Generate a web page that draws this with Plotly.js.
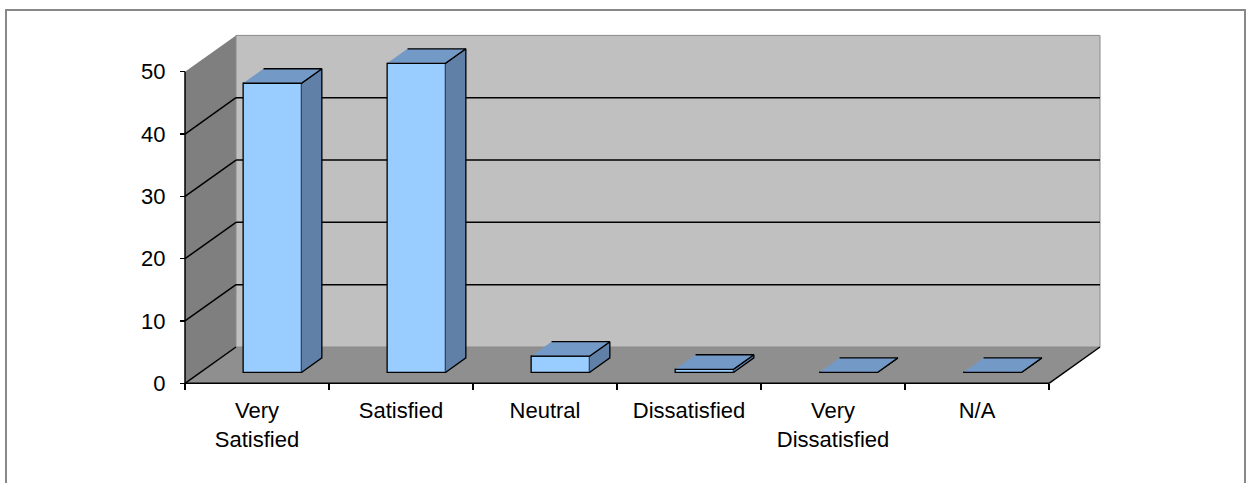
<!DOCTYPE html>
<html>
<head>
<meta charset="utf-8">
<script src="https://cdn.plot.ly/plotly-3.0.1.min.js"></script>
<style>
  html, body { margin: 0; padding: 0; overflow: hidden; background: #ffffff; }
  #wrap { position: relative; width: 1246px; height: 483px; }
  #chart { position: absolute; left: 0; top: 0; width: 1246px; height: 483px; }
  #frame { position: absolute; left: 5px; top: 9px; width: 1241px; height: 490px;
           box-sizing: border-box; border: 2px solid #888888; pointer-events: none; }
</style>
</head>
<body>
<div id="wrap">
  <div id="chart"></div>
  <div id="frame"></div>
</div>
<script>
// Survey responses (percent)
const categories = ['Very<br>Satisfied', 'Satisfied', 'Neutral', 'Dissatisfied', 'Very<br>Dissatisfied', 'N/A'];
const values = [46.4, 49.6, 2.6, 0.5, 0, 0];
const yTicks = [0, 10, 20, 30, 40, 50];
const yMax = 50;

// ---- 3-D box geometry (pixel scale of the front plane) ----
const W = 1246, H = 483;
const X0PX = 185, Y0PX = 383.3;      // origin of the front plane
const PX_X = 144, PX_Y = 6.232;       // px per category / px per unit
const DX = 51 / PX_X, DY = 36.3 / PX_Y;   // depth offset in axis units
const L = 170, R = 1110, T = 25, B = 395; // plot area box
const BAR_W = 0.405, F0 = 0.3, F1 = 0.7;  // bar width and depth slot

const nCat = categories.length;
const xRange = [(L - X0PX) / PX_X, (R - X0PX) / PX_X];
const yRange = [(Y0PX - B) / PX_Y, (Y0PX - T) / PX_Y];

const FRONT = '#99CCFF', TOP = '#7399C6', SIDE = '#6080A8';
const BACKWALL = '#C0C0C0', SIDEWALL = '#7F7F7F', FLOOR = '#8F8F8F';

// Walls, floor and gridlines
const shapes = [];
function poly(pts, fill, lineColor, lineWidth) {
  const d = 'M' + pts.map(p => p[0] + ',' + p[1]).join('L') + 'Z';
  shapes.push({type: 'path', path: d, xref: 'x', yref: 'y', layer: 'below',
               fillcolor: fill, line: {color: lineColor, width: lineWidth}});
}
function seg(x0, y0, x1, y1, color, width) {
  shapes.push({type: 'line', x0: x0, y0: y0, x1: x1, y1: y1, xref: 'x', yref: 'y',
               layer: 'below', line: {color: color, width: width}});
}
poly([[0, 0], [nCat, 0], [nCat + DX, DY], [DX, DY]], FLOOR, 'rgba(0,0,0,0)', 0);
poly([[0, 0], [DX, DY], [DX, yMax + DY], [0, yMax]], SIDEWALL, 'rgba(0,0,0,0)', 0);
poly([[DX, DY], [nCat + DX, DY], [nCat + DX, yMax + DY], [DX, yMax + DY]], BACKWALL, '#8A8A8A', 1);
yTicks.forEach(v => {
  if (v > 0 && v < yMax) seg(DX, v + DY, nCat + DX, v + DY, '#000000', 1.5);
  if (v < yMax) seg(0, v, DX, v + DY, '#000000', 1.5);
});
seg(nCat, 0, nCat + DX, DY, '#000000', 1.5);
seg(0, 0, nCat, 0, '#000000', 1.5);
seg(0, 0, 0, yMax, '#000000', 1.5);

// Bar faces
const centers = values.map((v, i) => i + 0.5);
const frontX = centers.map(c => c + F0 * DX);
const sideX = [], sideY = [], topX = [], topY = [];
values.forEach((v, i) => {
  const xl = centers[i] - BAR_W / 2, xr = centers[i] + BAR_W / 2;
  const b0 = F0 * DY, b1 = F1 * DY;
  sideX.push(xr + F0 * DX, xr + F1 * DX, xr + F1 * DX, xr + F0 * DX, null);
  sideY.push(b0, b1, b1 + v, b0 + v, null);
  topX.push(xl + F0 * DX, xr + F0 * DX, xr + F1 * DX, xl + F1 * DX, null);
  topY.push(b0 + v, b0 + v, b1 + v, b1 + v, null);
});

const traces = [
  {type: 'bar', x: frontX, y: values, base: values.map(() => F0 * DY), width: BAR_W,
   marker: {color: FRONT, line: {color: '#000000', width: 1.3}}, hoverinfo: 'skip'},
  {type: 'scatter', mode: 'lines', x: sideX, y: sideY, fill: 'toself', fillcolor: SIDE,
   line: {color: '#000000', width: 1.3}, connectgaps: false, hoverinfo: 'skip'},
  {type: 'scatter', mode: 'lines', x: topX, y: topY, fill: 'toself', fillcolor: TOP,
   line: {color: '#000000', width: 1.3}, connectgaps: false, hoverinfo: 'skip'}
];

const font = {family: 'Liberation Sans, Arial, sans-serif', size: 22, color: '#000000'};
const layout = {
  width: W, height: H,
  margin: {l: L, r: W - R, t: T, b: H - B, pad: 0},
  paper_bgcolor: '#FFFFFF', plot_bgcolor: 'rgba(0,0,0,0)',
  showlegend: false, hovermode: false, font: font,
  xaxis: {
    type: 'linear', range: xRange, fixedrange: true,
    anchor: 'free', position: (B - Y0PX) / (B - T),
    showgrid: false, zeroline: false, showline: false,
    tickmode: 'array', tickvals: centers, ticktext: categories, ticks: '',
    ticklabelstandoff: 12, tickfont: font,
    minor: {tickmode: 'array', tickvals: Array.from({length: nCat + 1}, (_, i) => i),
            ticks: 'outside', ticklen: 6, tickwidth: 1.3, tickcolor: '#000000', showgrid: false}
  },
  yaxis: {
    type: 'linear', range: yRange, fixedrange: true,
    anchor: 'free', position: (X0PX - L) / (R - L),
    showgrid: false, zeroline: false, showline: false,
    tickmode: 'array', tickvals: yTicks, ticks: 'outside', ticklen: 5, tickwidth: 1.3,
    tickcolor: '#000000', ticklabelstandoff: 10, tickfont: font
  },
  shapes: shapes
};

Plotly.newPlot('chart', traces, layout, {displayModeBar: false, staticPlot: true});
</script>
</body>
</html>
